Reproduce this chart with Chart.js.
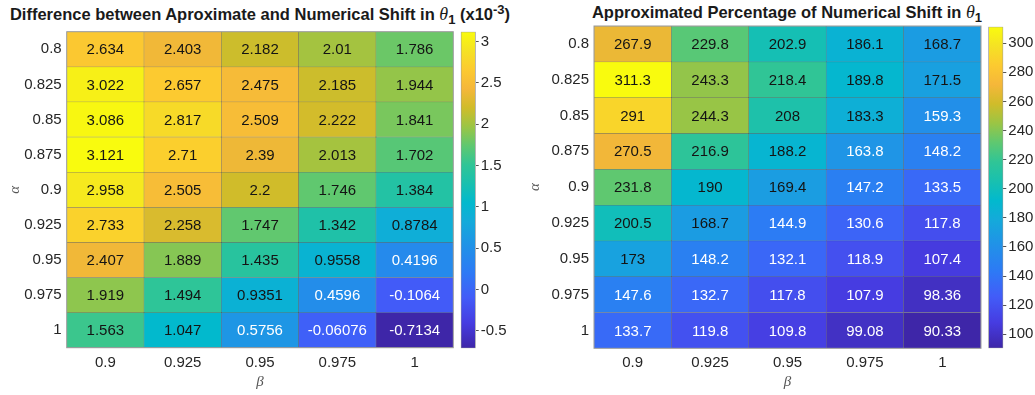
<!DOCTYPE html>
<html lang="en">
<head>
<meta charset="UTF-8">
<title>Aproximate vs Numerical Shift in theta1</title>
<script src="https://cdn.jsdelivr.net/npm/chart.js"></script>
<style>
  body {
    margin: 0;
    background: #fff;
    font-family: "Liberation Sans", Arial, sans-serif;
  }
  .wrap {
    position: relative;
    width: 1035px;
    height: 395px;
    overflow: hidden;
  }
  canvas {
    position: absolute;
    top: 0;
  }
  .title {
    position: absolute;
    font-weight: bold;
    font-size: 16.5px;
    color: #1a1a1a;
    white-space: nowrap;
    text-align: center;
    line-height: 18px;
  }
  .title .th {
    font-family: "Liberation Serif", serif;
    font-style: italic;
    font-weight: normal;
    font-size: 18px;
  }
  .title sub, .title sup {
    font-size: 13px;
    line-height: 0;
  }
</style>
</head>
<body>
<div class="wrap">
  <div class="title" style="left:0; width:520px; top:5px;">Difference between Aproximate and Numerical Shift in <span class="th">θ</span><sub>1</sub> (x10<sup>-3</sup>)</div>
  <div class="title" style="left:587px; width:400px; top:3px;">Approximated Percentage of Numerical Shift in <span class="th">θ</span><sub>1</sub></div>

  <canvas id="diffMap" width="456" height="395" style="left:0"></canvas>
  <canvas id="diffBar" width="64" height="395" style="left:456px"></canvas>
  <canvas id="pctMap" width="463" height="395" style="left:520px"></canvas>
  <canvas id="pctBar" width="52" height="395" style="left:983px"></canvas>
</div>

<script>
  // rows = alpha, columns = beta
  const alphas = [0.8, 0.825, 0.85, 0.875, 0.9, 0.925, 0.95, 0.975, 1];
  const betas = [0.9, 0.925, 0.95, 0.975, 1];

  const diffRows = [
    [2.634, 2.403, 2.182, 2.01, 1.786],
    [3.022, 2.657, 2.475, 2.185, 1.944],
    [3.086, 2.817, 2.509, 2.222, 1.841],
    [3.121, 2.71, 2.39, 2.013, 1.702],
    [2.958, 2.505, 2.2, 1.746, 1.384],
    [2.733, 2.258, 1.747, 1.342, 0.8784],
    [2.407, 1.889, 1.435, 0.9558, 0.4196],
    [1.919, 1.494, 0.9351, 0.4596, -0.1064],
    [1.563, 1.047, 0.5756, -0.06076, -0.7134]
  ];

  const pctRows = [
    [267.9, 229.8, 202.9, 186.1, 168.7],
    [311.3, 243.3, 218.4, 189.8, 171.5],
    [291, 244.3, 208, 183.3, 159.3],
    [270.5, 216.9, 188.2, 163.8, 148.2],
    [231.8, 190, 169.4, 147.2, 133.5],
    [200.5, 168.7, 144.9, 130.6, 117.8],
    [173, 148.2, 132.1, 118.9, 107.4],
    [147.6, 132.7, 117.8, 107.9, 98.36],
    [133.7, 119.8, 109.8, 99.08, 90.33]
  ];

  const diffTicks = [-0.5, 0, 0.5, 1, 1.5, 2, 2.5, 3];
  const pctTicks = [100, 120, 140, 160, 180, 200, 220, 240, 260, 280, 300];

  // parula-like colormap stops
  const parula = [
    [0.00, 62, 38, 168],
    [0.08, 70, 60, 225],
    [0.16, 66, 92, 248],
    [0.24, 45, 122, 245],
    [0.32, 33, 145, 232],
    [0.40, 20, 170, 218],
    [0.46, 2, 185, 205],
    [0.52, 25, 192, 175],
    [0.58, 48, 197, 150],
    [0.64, 95, 200, 112],
    [0.70, 155, 197, 68],
    [0.76, 208, 188, 42],
    [0.82, 245, 183, 58],
    [0.88, 252, 202, 48],
    [0.94, 245, 226, 36],
    [1.00, 249, 251, 14]
  ];

  function colorAt(t) {
    t = Math.max(0, Math.min(1, t));
    for (let i = 1; i < parula.length; i++) {
      const a = parula[i - 1], b = parula[i];
      if (t <= b[0]) {
        const f = (t - a[0]) / (b[0] - a[0]);
        const c = [1, 2, 3].map(k => Math.round(a[k] + (b[k] - a[k]) * f));
        return 'rgb(' + c.join(',') + ')';
      }
    }
    return 'rgb(249,251,14)';
  }

  const tickColor = '#262626';
  const tickFont = { family: '"Liberation Sans", Arial, sans-serif', size: 15 };
  const labelFont = { family: '"Liberation Serif", serif', size: 15, style: 'italic' };

  function heatmap(id, rows, box) {
    const flat = rows.flat();
    const lo = Math.min(...flat), hi = Math.max(...flat);
    const norm = v => (v - lo) / (hi - lo);

    const datasets = rows.map((row, i) => ({
      label: String(alphas[i]),
      data: row.map(() => [i, i + 1]),
      backgroundColor: row.map(v => colorAt(norm(v))),
      borderColor: 'rgba(50,50,50,0.55)',
      borderWidth: 0.5,
      borderSkipped: false,
      barPercentage: 1,
      categoryPercentage: 1,
      grouped: false
    }));

    const cellLabels = {
      id: 'cellLabels',
      afterDatasetsDraw(chart) {
        const ctx = chart.ctx;
        ctx.save();
        ctx.font = '15px "Liberation Sans", Arial, sans-serif';
        ctx.textAlign = 'center';
        ctx.textBaseline = 'middle';
        rows.forEach((row, i) => {
          const meta = chart.getDatasetMeta(i);
          row.forEach((v, j) => {
            const p = meta.data[j].getCenterPoint();
            ctx.fillStyle = norm(v) < 0.345 ? '#ffffff' : '#141414';
            ctx.fillText(String(v), p.x, p.y + 1);
          });
        });
        const a = chart.chartArea;
        ctx.strokeStyle = '#9a9a9a';
        ctx.lineWidth = 1;
        ctx.strokeRect(a.left, a.top, a.right - a.left, a.bottom - a.top);
        ctx.restore();
      }
    };

    return new Chart(document.getElementById(id), {
      type: 'bar',
      data: { labels: betas.map(String), datasets },
      plugins: [cellLabels],
      options: {
        responsive: false,
        animation: false,
        layout: { padding: { top: box.top, right: box.right, left: 0, bottom: 0 } },
        plugins: { legend: { display: false }, tooltip: { enabled: false } },
        scales: {
          x: {
            grid: { display: false, drawTicks: false },
            border: { display: false },
            ticks: { color: tickColor, font: tickFont, padding: 6, maxRotation: 0 },
            title: { display: true, text: 'β', color: '#555', font: labelFont, padding: { top: 0, bottom: 4 } },
            afterFit: s => { s.height = box.xh; }
          },
          y: {
            min: 0,
            max: alphas.length,
            reverse: true,
            grid: { display: false, drawTicks: false },
            border: { display: false },
            afterBuildTicks: s => { s.ticks = alphas.map((a, i) => ({ value: i + 0.5 })); },
            ticks: {
              color: tickColor, font: tickFont, padding: 5, autoSkip: false,
              callback: (v, i) => String(alphas[i])
            },
            title: { display: true, text: 'α', color: '#555', font: labelFont, padding: { top: 6, bottom: 0 } },
            afterFit: s => { s.width = box.yw; }
          }
        }
      }
    });
  }

  function colorbar(id, rows, ticks, box) {
    const flat = rows.flat();
    const lo = Math.min(...flat), hi = Math.max(...flat);

    return new Chart(document.getElementById(id), {
      type: 'bar',
      data: {
        labels: [''],
        datasets: [{
          data: [[lo, hi]],
          backgroundColor: c => {
            const area = c.chart.chartArea;
            if (!area) return null;
            const g = c.chart.ctx.createLinearGradient(0, area.bottom, 0, area.top);
            parula.forEach(s => g.addColorStop(s[0], 'rgb(' + s[1] + ',' + s[2] + ',' + s[3] + ')'));
            return g;
          },
          borderColor: '#9a9a9a',
          borderWidth: 1,
          borderSkipped: false,
          barPercentage: 1,
          categoryPercentage: 1
        }]
      },
      options: {
        responsive: false,
        animation: false,
        layout: { padding: { top: box.top, left: box.left, right: 0, bottom: box.bottom } },
        plugins: { legend: { display: false }, tooltip: { enabled: false } },
        scales: {
          x: { display: false },
          y: {
            position: 'right',
            min: lo,
            max: hi,
            grid: { display: true, drawOnChartArea: false, drawTicks: true, tickLength: 3, color: '#555' },
            border: { display: false },
            afterBuildTicks: s => { s.ticks = ticks.map(v => ({ value: v })); },
            ticks: {
              color: tickColor, font: tickFont, padding: 2, autoSkip: false,
              callback: (v, i) => String(ticks[i])
            },
            afterFit: s => { s.width = box.yw; }
          }
        }
      }
    });
  }

  heatmap('diffMap', diffRows, { top: 31.7, right: 2.7, yw: 66.7, xh: 47.3 });
  colorbar('diffBar', diffRows, diffTicks, { top: 31.7, left: 4.7, bottom: 46.7, yw: 44.3 });
  heatmap('pctMap', pctRows, { top: 26, right: 2, yw: 74, xh: 46.7 });
  colorbar('pctBar', pctRows, pctTicks, { top: 26.7, left: 5.3, bottom: 46.7, yw: 31.7 });
</script>
</body>
</html>
